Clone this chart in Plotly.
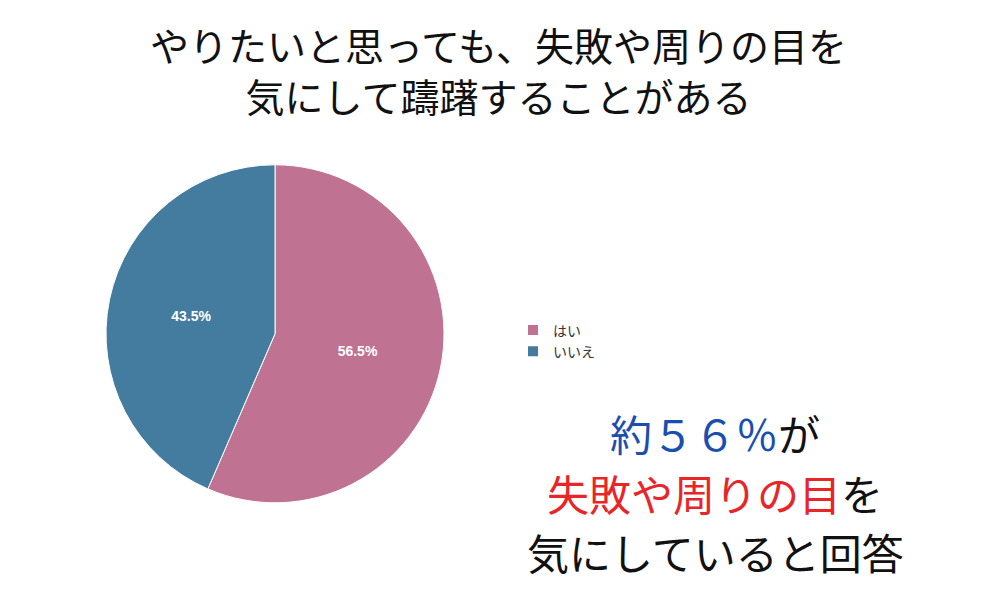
import plotly.graph_objects as go

labels = ["はい", "いいえ"]
values = [56.5, 43.5]
colors = ["#C07292", "#437C9F"]

fig = go.Figure(go.Pie(
    labels=labels, values=values, sort=False, direction="clockwise", rotation=0,
    marker=dict(colors=colors, line=dict(color="white", width=1)),
    texttemplate="<b>%{percent:.1%}</b>", textposition="inside", insidetextorientation="horizontal",
    textfont=dict(color="white", size=14, family="Arial"),
    domain=dict(x=[0.098, 0.436], y=[0.175, 0.739]),
))
jp = "Noto Sans CJK JP"
fig.update_layout(
    width=1000, height=600, margin=dict(l=0, r=0, t=0, b=0),
    paper_bgcolor="white", plot_bgcolor="white",
    legend=dict(x=0.505, y=0.445, xanchor="left", yanchor="middle", tracegroupgap=8,
                font=dict(size=14, family=jp, color="#333"), itemsizing="constant"),
    annotations=[
        dict(text="やりたいと思っても、失敗や周りの目を<br>気にして躊躇することがある",
             x=0.49, y=0.99, xref="paper", yref="paper", xanchor="center", yanchor="top",
             showarrow=False, font=dict(size=39, family=jp, color="#111")),
        dict(text="<span style='color:#1A4FB0'>約５６％</span>が",
             x=0.707, y=0.292, xref="paper", yref="paper", xanchor="center", yanchor="middle",
             showarrow=False, font=dict(size=42, family=jp, color="#111")),
        dict(text="<span style='color:#E8262A'>失敗や周りの目</span>を",
             x=0.707, y=0.192, xref="paper", yref="paper", xanchor="center", yanchor="middle",
             showarrow=False, font=dict(size=42, family=jp, color="#111")),
        dict(text="気にしていると回答",
             x=0.707, y=0.095, xref="paper", yref="paper", xanchor="center", yanchor="middle",
             showarrow=False, font=dict(size=42, family=jp, color="#111")),
    ],
)
fig.write_html("out.html")
